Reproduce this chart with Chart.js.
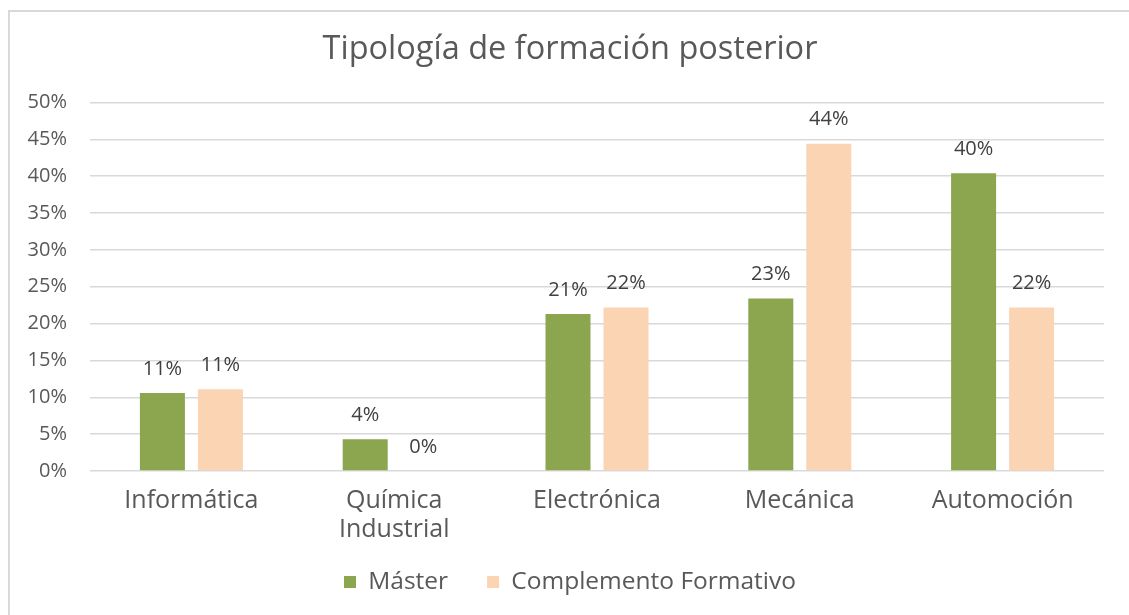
<!DOCTYPE html>
<html>
<head>
<meta charset="utf-8">
<script src="https://cdn.jsdelivr.net/npm/chart.js@4/dist/chart.umd.min.js"></script>
<style>
  html, body { margin: 0; padding: 0; background: #fff; overflow: hidden; }
  #wrap { position: relative; width: 1129px; height: 640px; }
  #frame { position: absolute; left: 8px; top: 10px; width: 2000px; height: 2000px; border: 2px solid #d9d9d9; pointer-events: none; }
</style>
</head>
<body>
<div id="wrap">
  <canvas id="c" width="1129" height="640"></canvas>
  <div id="frame"></div>
</div>
<script>
// Datos (fracciones: 0.5 = 50%)
const categorias = ['Informática', ['Química', 'Industrial'], 'Electrónica', 'Mecánica', 'Automoción'];
const master = [0.106, 0.043, 0.213, 0.234, 0.404];
const complemento = [0.111, 0, 0.222, 0.444, 0.222];
const yTicks = [0, 0.05, 0.1, 0.15, 0.2, 0.25, 0.3, 0.35, 0.4, 0.45, 0.5];

const FONT = "'Open Sans', sans-serif";
const pct = v => Math.round(v * 100) + '%';

// etiquetas de valor encima de cada barra
const etiquetas = {
  id: 'etiquetas',
  afterLayout(chart) {
    // los ejes recortan sus etiquetas a su caja: se amplían
    chart.scales.x.bottom = chart.height;
    chart.scales.y.left = 0;
  },
  afterDatasetsDraw(chart) {
    const ctx = chart.ctx;
    ctx.save();
    ctx.font = '20px ' + FONT;
    ctx.fillStyle = '#404040';
    ctx.textAlign = 'center';
    ctx.textBaseline = 'middle';
    chart.data.datasets.forEach((ds, i) => {
      chart.getDatasetMeta(i).data.forEach((bar, j) => {
        ctx.fillText(pct(ds.data[j]), bar.x, bar.y - 24);
      });
    });
    ctx.restore();
  }
};

new Chart('c', {
  type: 'bar',
  data: {
    labels: categorias,
    datasets: [
      { label: 'Máster', data: master, backgroundColor: '#8BA64E', categoryPercentage: 0.572, barPercentage: 0.776 },
      { label: 'Complemento Formativo', data: complemento, backgroundColor: '#FBD4B4', categoryPercentage: 0.572, barPercentage: 0.776 }
    ]
  },
  options: {
    responsive: false,
    animation: false,
    layout: { padding: { left: 36, right: 25, top: 0, bottom: 35.75 } },
    plugins: {
      tooltip: { enabled: false },
      title: {
        display: true,
        text: 'Tipología de formación posterior',
        color: '#595959',
        font: { family: FONT, size: 32.5, weight: 'normal' },
        padding: { top: 30.5, bottom: 33 }
      },
      legend: {
        position: 'bottom',
        labels: {
          color: '#595959',
          font: { family: FONT, size: 24.5 },
          boxWidth: 12, boxHeight: 12,
          padding: 39
        }
      }
    },
    scales: {
      x: {
        grid: { display: false, drawTicks: false },
        border: { display: false },
        ticks: { color: '#595959', font: { family: FONT, size: 25, lineHeight: 1.16 }, padding: 15.5, maxRotation: 0, autoSkip: false },
        afterFit: s => { s.height = 59.75; }
      },
      y: {
        min: 0, max: 0.5,
        afterBuildTicks: s => { s.ticks = yTicks.map(v => ({ value: v })); },
        grid: { color: '#d9d9d9', lineWidth: 1.5, drawTicks: false },
        border: { display: false },
        ticks: { color: '#595959', font: { family: FONT, size: 20 }, padding: 23, callback: v => pct(v) },
        afterFit: s => { s.width = 54; }
      }
    }
  },
  plugins: [etiquetas]
});
</script>
</body>
</html>
